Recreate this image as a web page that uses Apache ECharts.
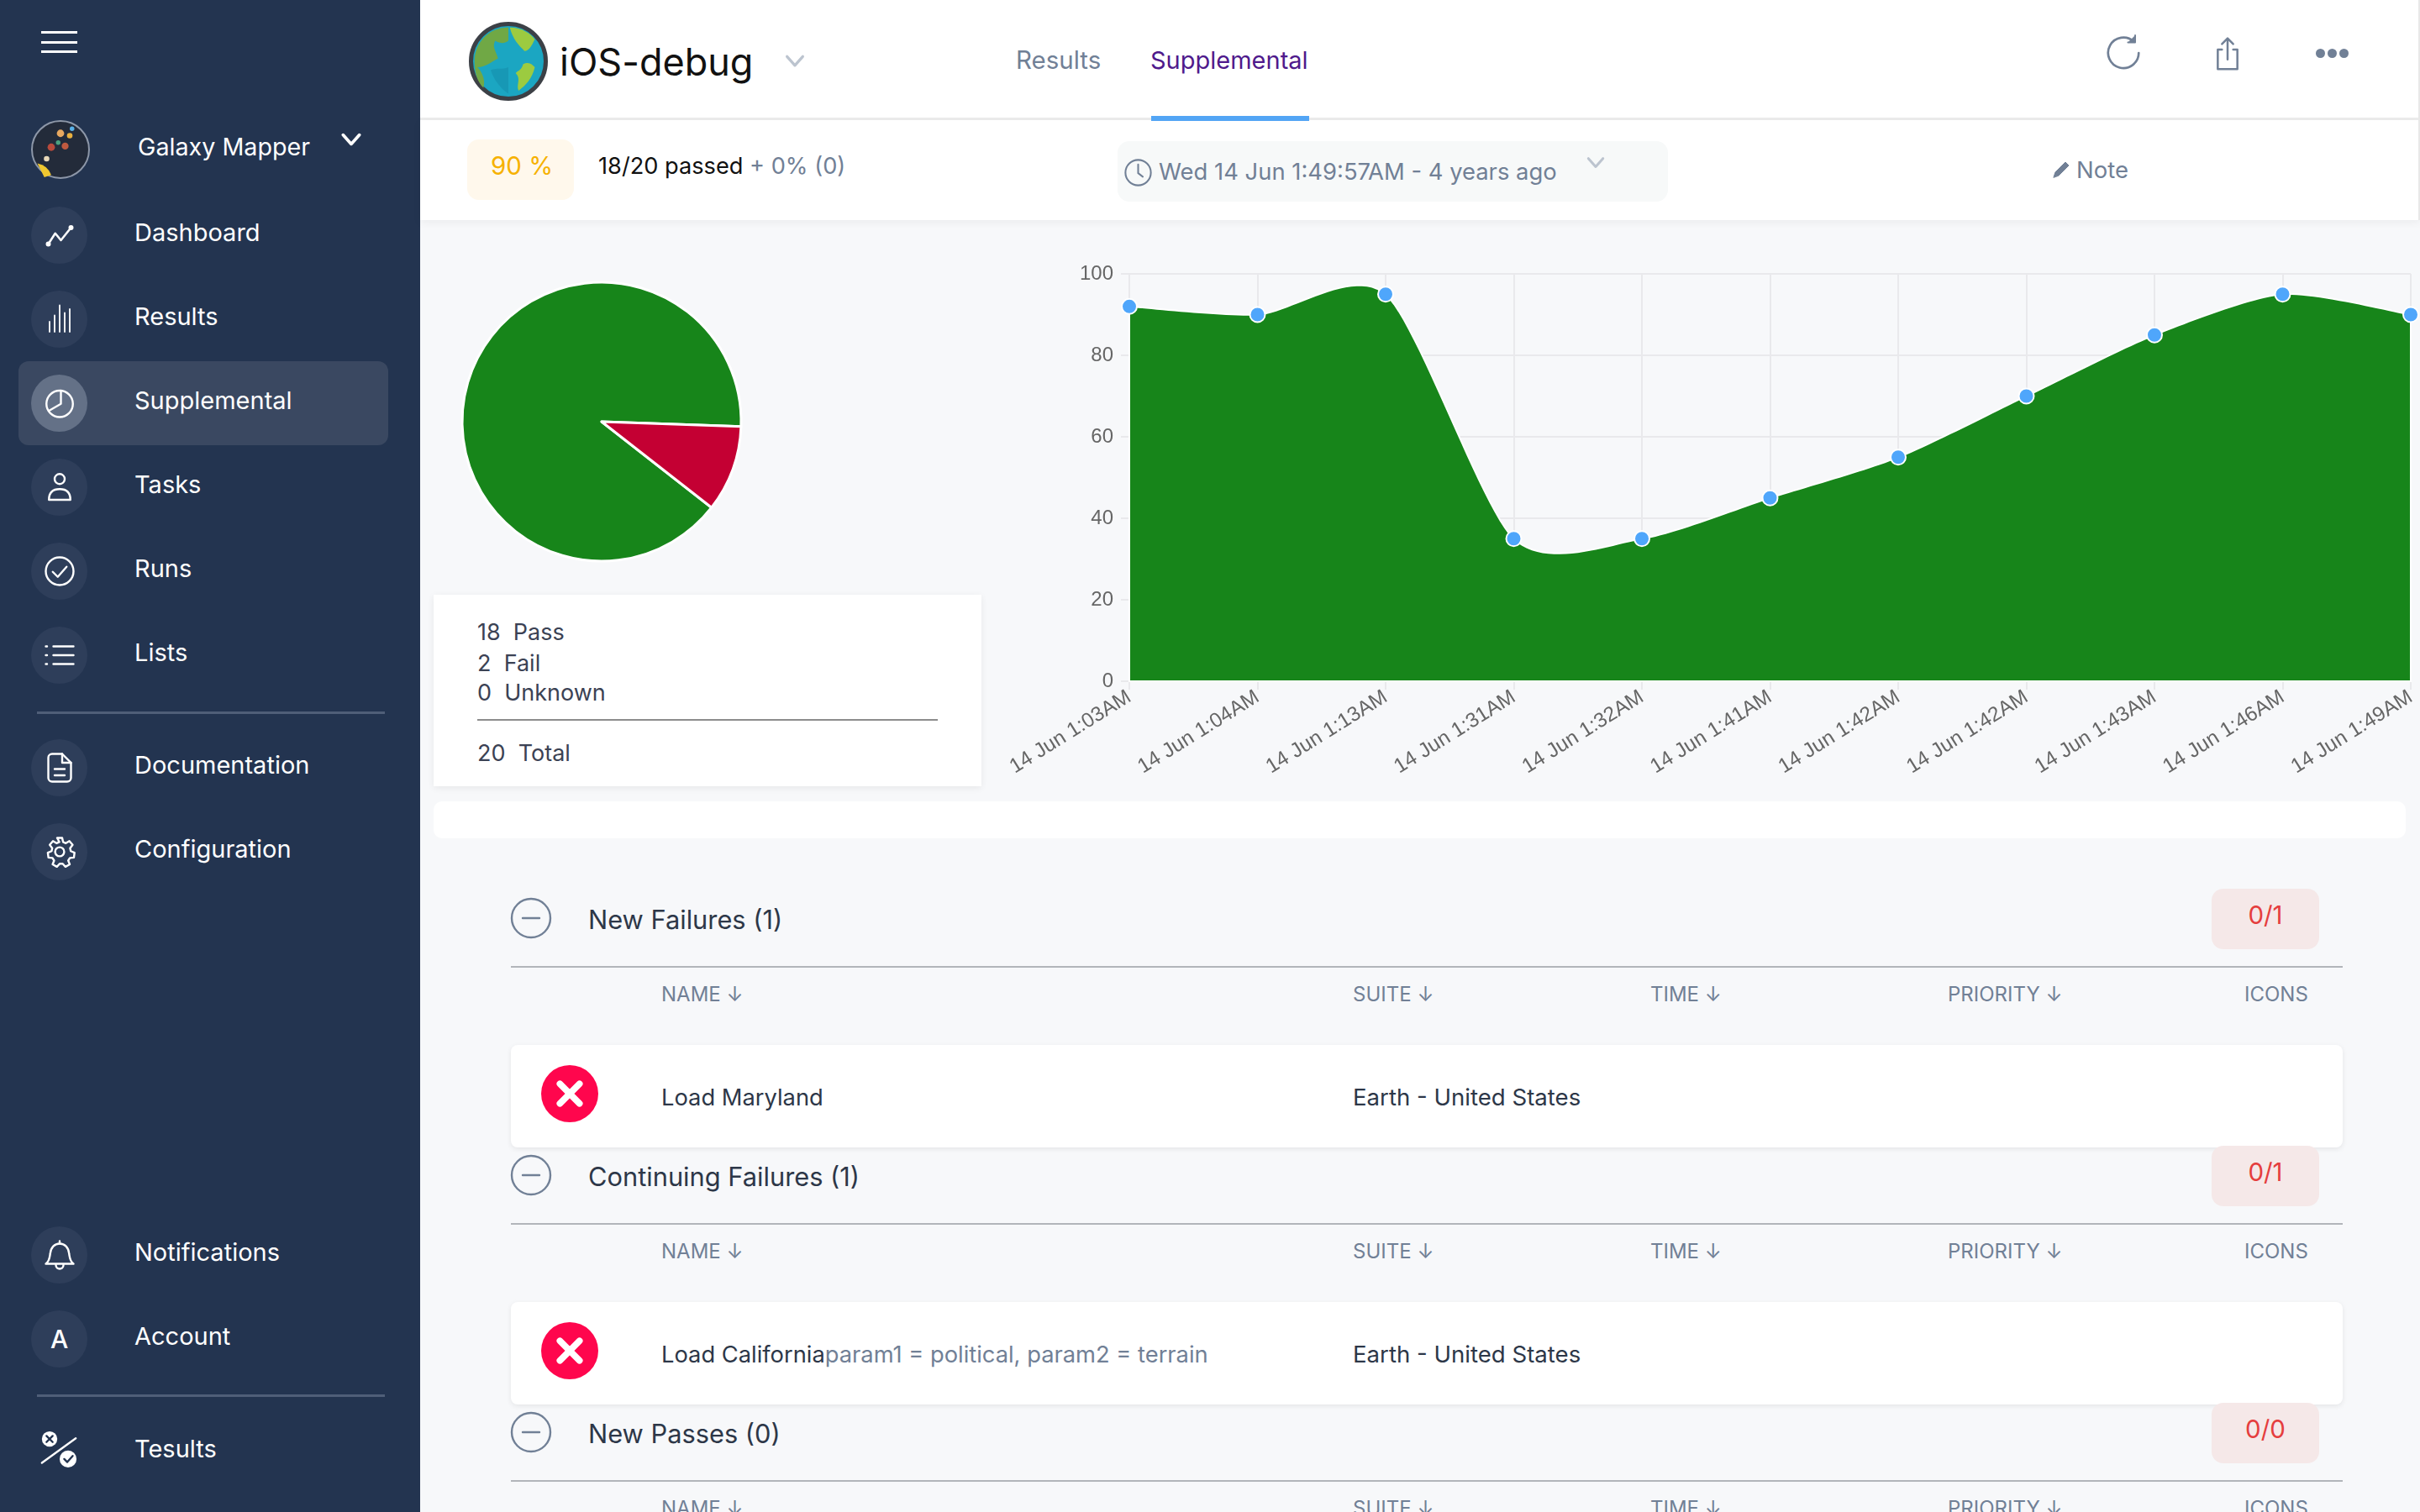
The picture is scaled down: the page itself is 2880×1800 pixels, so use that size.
<!DOCTYPE html>
<html>
<head>
<meta charset="utf-8">
<title>iOS-debug</title>
<script src="https://cdn.jsdelivr.net/npm/echarts@6/dist/echarts.min.js"></script>
<style>
    html, body { margin: 0; padding: 0; width: 2880px; height: 1800px; overflow: hidden; background: #f7f8fa; font-family: Inter, "Noto Sans", sans-serif; }
    #page { position: absolute; left: 0; top: 0; width: 2880px; height: 1800px; overflow: hidden; }
    .box { position: absolute; }
    .txt { position: absolute; white-space: nowrap; transform: translateY(-50%); line-height: 1.2; }
    .icon { position: absolute; overflow: visible; fill: none; stroke-linecap: round; stroke-linejoin: round; }
    #chart { position: absolute; left: 500px; top: 262px; width: 2380px; height: 690px; }
</style>
</head>
<body>
<div id="page"></div>
<div id="chart"></div>
<script>
// chart values
const runLabels = ['14 Jun 1:03AM', '14 Jun 1:04AM', '14 Jun 1:13AM', '14 Jun 1:31AM', '14 Jun 1:32AM', '14 Jun 1:41AM',
    '14 Jun 1:42AM', '14 Jun 1:42AM', '14 Jun 1:43AM', '14 Jun 1:46AM', '14 Jun 1:49AM'];
const passRates = [92, 90, 95, 35, 35, 45, 55, 70, 85, 95, 90];
const pieNames = ['Pass', 'Fail'];
const pieValues = [18, 2];
const pieColors = ['#17851a', '#c40033'];

// page text
const navTop = [
    ['Dashboard', 'line', 280], ['Results', 'bars', 380], ['Supplemental', 'pie', 480], ['Tasks', 'user', 580],
    ['Runs', 'check', 680], ['Lists', 'list', 780], ['Documentation', 'doc', 914], ['Configuration', 'gear', 1014],
    ['Notifications', 'bell', 1494], ['Account', 'A', 1594]
];
const summaryRows = [['18  Pass', 753], ['2  Fail', 790], ['0  Unknown', 825], ['20  Total', 897]];
const sections = [
    ['New Failures (1)', '0/1', 0, 'Load Maryland', ''],
    ['Continuing Failures (1)', '0/1', 306, 'Load California', 'param1 = political, param2 = terrain'],
    ['New Passes (0)', '0/0', 612, '', '']
];
const tableColumns = [['NAME', 787, true], ['SUITE', 1610, true], ['TIME', 1964, true], ['PRIORITY', 2318, true], ['ICONS', 2671, false]];

const page = document.getElementById('page');

function box(x, y, w, h, css) {
    const d = document.createElement('div');
    d.className = 'box';
    d.style.cssText = `left:${x}px;top:${y}px;width:${w}px;height:${h}px;${css || ''}`;
    page.appendChild(d);
    return d;
}

function txt(s, x, y, size, color, css) {
    const d = document.createElement('div');
    d.className = 'txt';
    d.textContent = s;
    d.style.cssText = `left:${x}px;top:${y}px;font-size:${size}px;color:${color};${css || ''}`;
    page.appendChild(d);
    return d;
}

// icon drawn in a 24x24 box centred on cx,cy
function icon(body, cx, cy, size, color, sw) {
    const wrap = document.createElement('div');
    const html = `<svg class="icon" viewBox="0 0 24 24" width="${size}" height="${size}" style="left:${cx - size / 2}px;top:${cy - size / 2}px;stroke:${color};stroke-width:${sw || 1.6}">${body}</svg>`;
    wrap.innerHTML = html;
    page.appendChild(wrap.firstChild);
}

const icons = {
    line: '<path d="M3 19 L8.500 10.500 L13 16 L21 6" stroke-width="1.700"/><circle cx="3" cy="19" r="1.200" fill="#fff"/><circle cx="21" cy="6" r="1.200" fill="#fff"/>',
    bars: '<path d="M4 22V14M8 22V9M12 22V1M16 22V7M20 22V4" stroke-width="1.200"/>',
    pie: '<circle cx="12" cy="12.500" r="10.500"/><path d="M13 2V12.500L3.500 18"/>',
    user: '<circle cx="12" cy="5.500" r="4"/><path d="M3.500 22c0-6 3.500-8.500 8.500-8.500s8.500 2.500 8.500 8.500z"/>',
    check: '<circle cx="12" cy="12" r="11"/><path d="M6.500 12.500l4 4 7-8"/>',
    list: '<path d="M7 5h16M7 12h16M7 19h16M1 5h1M1 12h1M1 19h1"/>',
    doc: '<path d="M3 4a3 3 0 0 1 3-3h8l7 7v12a3 3 0 0 1-3 3H6a3 3 0 0 1-3-3z"/><path d="M14 1v7h7M8 13h8M8 18h8"/>',
    gear: '<circle cx="12" cy="12" r="3.600"/><path d="M10 1h4l.7 3.200 2.200 1 2.800-1.700 2.600 3-2 2.600.5 2.400 3 1.200-.5 3.900-3.200.3-1.300 2.100 1.200 3-3.400 1.900-2.200-2.400h-2.400l-2.200 2.400-3.400-1.900 1.200-3-1.300-2.100-3.200-.3-.5-3.900 3-1.200.5-2.400-2-2.600 2.600-3 2.800 1.700 2.200-1z"/>',
    bell: '<path d="M1 19c3-2 3-5 3.500-8C5 6 8 3 12 3s7 3 7.500 8c.5 3 .5 6 3.500 8z"/><path d="M9 20c0 4 6 4 6 0M12 1v2"/>'
};

// sidebar
box(0, 0, 500, 1800, 'background:#233450');
[38, 50, 61].forEach(y => box(49, y - 1, 43, 3, 'background:#fff'));

box(37, 143, 70, 70, 'border-radius:50%;background:#232b3a;border:2px solid #8d97a8;box-sizing:border-box');
icon('<circle cx="12" cy="5" r="1.600" fill="#e8a860" stroke="none"/><circle cx="17" cy="3" r="1" fill="#58b0e8" stroke="none"/><circle cx="16" cy="6" r="1.200" fill="#e8b040" stroke="none"/><circle cx="8" cy="11" r="1.600" fill="#b84a3c" stroke="none"/><circle cx="11" cy="9" r="1" fill="#4aa080" stroke="none"/><circle cx="14" cy="10.500" r="1.500" fill="#c05a40" stroke="none"/><circle cx="6" cy="16" r="1.200" fill="#e8d8b8" stroke="none"/><path d="M2 18a8 8 0 0 1 6 5l-3 1z" fill="#f0c830" stroke="none"/>', 72, 178, 66, '#fff');
txt('Galaxy Mapper', 164, 175, 28.7, '#fff');
icon('<path d="M3 7l9 10 9-10"/>', 418, 166, 26, '#fff', 3.400);

box(22, 430, 440, 100, 'background:#3a4861;border-radius:12px');
navTop.forEach(item => {
    const active = item[0] === 'Supplemental';
    box(37, item[2] - 34, 67, 68, `border-radius:50%;background:${active ? '#647187' : '#2e3e5a'}`);
    if (item[1] === 'A') {
        txt('A', 60, item[2], 30, '#fff', 'font-weight:500');
    } else {
        icon(icons[item[1]], 71, item[2], 36, '#fff');
    }
    txt(item[0], 160, item[2] - 3, 29, '#fff');
});
box(44, 847, 414, 3, 'background:#4f5e78');
box(44, 1660, 414, 3, 'background:#4f5e78');
icon('<path d="M1 21L23 5" stroke="#fff" stroke-width="1.300"/><circle cx="6" cy="5.500" r="5" fill="#fff" stroke="none"/><circle cx="18" cy="18.500" r="5.500" fill="#fff" stroke="none"/><path d="M4 3.500l4 4M8 3.500l-4 4M15.500 18.500l2 2 3.500-4" stroke="#233450" stroke-width="1.300"/>', 70, 1725, 44, '#fff');
txt('Tesults', 160, 1725, 29, '#fff');

// header
box(500, 0, 2380, 141, 'background:#fff');
box(500, 140, 2380, 3, 'background:#ececec');
box(500, 143, 2380, 119, 'background:#fff;box-shadow:0 3px 10px rgba(0,0,0,.05)');
box(2878, 0, 2, 262, 'background:#e8e8e8');

box(558, 26, 94, 94, 'border-radius:50%;background:#1ba6c2;border:5px solid #3c4046;box-sizing:border-box;overflow:hidden');
icon('<path d="M12 0.500C5 0.500 0.500 6 0.500 12c0 4 1 7 3 9 1-3-1-6-2-7 3 0 5-2 7-3-1-3-2-4-1-6 2 1 3 1 4.500 0z" fill="#70a845" stroke="none"/><path d="M12.500 0.500c4 0 7 2 8.500 4-1 2-2 4-3.500 4-2-2-4-4-5-8z" fill="#9ccb40" stroke="none"/><path d="M17 13c2-1 3 0 4 1-1 4-3 6-5.500 8-1-2 1-4-1-6 1-1 2-1 2.500-3z" fill="#9ccb40" stroke="none"/><path d="M12 14c-2 1-4 0-6 1 1 3 3 6 6 8z" fill="rgba(0,60,90,.12)" stroke="none"/>', 605, 73, 84, '#fff');
txt('iOS-debug', 666, 74, 45, '#111');
icon('<path d="M4 8l8 9 8-9"/>', 946, 72, 28, '#bcc4cf', 2.800);

txt('Results', 1209, 72, 29.500, '#718096');
txt('Supplemental', 1369, 72, 29, '#4f1a8c');
box(1370, 138, 188, 6, 'background:#52a5f5');

icon('<path d="M21 12a9.500 9.500 0 1 1-3-7"/><path d="M18.800 1v4.500h-4.500" fill="#718096" stroke-width="1"/>', 2528, 63, 46, '#718096', 1.400);
icon('<path d="M8 9H5v14h14V9h-3M12 16V1M8 5l4-4 4 4"/>', 2651, 64, 40, '#718096', 1.500);
[2761, 2775, 2789].forEach(x => box(x - 5, 58, 11, 11, 'border-radius:50%;background:#718096'));

// status strip
box(556, 166, 127, 72, 'background:#fff8ec;border-radius:14px');
txt('90 %', 584, 198, 29.500, '#f6b100');
const passedLine = txt('18/20 passed', 712, 198, 27.200, '#111');
const passedExtra = document.createElement('span');
passedExtra.textContent = ' + 0% (0)';
passedExtra.style.color = '#718096';
passedLine.appendChild(passedExtra);

box(1330, 168, 655, 72, 'background:#f7f9f9;border-radius:14px');
icon('<circle cx="12" cy="12" r="11"/><path d="M12 5v7.500l4 3"/>', 1354, 205, 33, '#718096', 1.500);
txt('Wed 14 Jun 1:49:57AM - 4 years ago', 1379, 204, 27.400, '#718096');
icon('<path d="M4 8l8 9 8-9"/>', 1899, 193, 26, '#bcc4cf', 2.800);
icon('<path d="M3 21l2-6L17 3l4 4L9 19z" fill="#718096"/>', 2453, 202, 24, '#718096', 1);
txt('Note', 2471, 202, 27.500, '#718096');

// summary card
box(516, 708, 652, 228, 'background:#fff;box-shadow:0 2px 8px rgba(0,0,0,.07)');
summaryRows.forEach(r => txt(r[0], 568, r[1], 27, '#3b4254', 'white-space:pre'));
box(568, 856, 548, 2, 'background:#8c8c8c');
box(516, 954, 2347, 44, 'background:#fff;border-radius:10px');

// result sections
sections.forEach(s => {
    const dy = s[2];
    icon('<circle cx="12" cy="12" r="11.500"/><path d="M7 12h10"/>', 632, 1093 + dy, 48, '#718096', 1.200);
    txt(s[0], 700, 1095 + dy, 30.800, '#2d3748');
    box(2632, 1058 + dy, 128, 72, 'background:#f5e8e8;border-radius:14px');
    txt(s[1], 2696, 1090 + dy, 29.500, '#e53e3e', 'transform:translate(-50%,-50%)');
    box(608, 1150 + dy, 2180, 2, 'background:#b2b5ba');
    tableColumns.forEach(c => {
        const h = txt(c[0], c[1], 1184 + dy, 24, '#718096');
        if (c[2]) {
            const a = document.createElement('span');
            a.textContent = ' \u2193';
            h.appendChild(a);
        }
    });
    if (!s[3]) return;
    box(608, 1244 + dy, 2180, 122, 'background:#fff;border-radius:8px;box-shadow:0 2px 6px rgba(0,0,0,.08)');
    box(644, 1268 + dy, 68, 68, 'border-radius:50%;background:#ff064d');
    icon('<path d="M5 5l14 14M19 5L5 19"/>', 678, 1302 + dy, 40, '#fff', 4.600);
    const name = txt(s[3], 787, 1307 + dy, 27.300, '#2d3748');
    if (s[4]) {
        const p = document.createElement('span');
        p.textContent = s[4];
        p.style.color = '#718096';
        name.appendChild(p);
    }
    txt('Earth - United States', 1610, 1307 + dy, 27.600, '#2d3748');
});

// area under the runs, spline with overshoot like the original chart
function renderArea(params, api) {
    if (params.dataIndex !== 0) return null;
    const pts = passRates.map((v, i) => api.coord([i, v]));
    const base = api.coord([0, 0])[1];
    const k = 1 / 8;
    const outline = [[pts[0][0], base], pts[0]];
    for (let i = 0; i < pts.length - 1; i++) {
        const p0 = pts[Math.max(i - 1, 0)], p1 = pts[i], p2 = pts[i + 1], p3 = pts[Math.min(i + 2, pts.length - 1)];
        const c1 = [p1[0] + (p2[0] - p0[0]) * k, p1[1] + (p2[1] - p0[1]) * k];
        const c2 = [p2[0] - (p3[0] - p1[0]) * k, p2[1] - (p3[1] - p1[1]) * k];
        for (let s = 1; s <= 24; s++) {
            const t = s / 24, u = 1 - t;
            outline.push([0, 1].map(d => u * u * u * p1[d] + 3 * u * u * t * c1[d] + 3 * u * t * t * c2[d] + t * t * t * p2[d]));
        }
    }
    outline.push([pts[pts.length - 1][0], base]);
    return {
        type: 'polygon',
        shape: { points: outline },
        style: { fill: pieColors[0], stroke: '#fff', lineWidth: 2 }
    };
}

// charts
const chart = echarts.init(document.getElementById('chart'));
const gridColor = '#e9e9ec';
chart.setOption({
    animation: false,
    grid: { left: 844, top: 64, width: 1525, height: 485 },
    xAxis: {
        type: 'category',
        boundaryGap: false,
        data: runLabels,
        axisLine: { lineStyle: { color: gridColor, width: 2 } },
        axisTick: { show: true, length: 10, alignWithLabel: true, lineStyle: { color: gridColor, width: 2 } },
        splitLine: { show: true, lineStyle: { color: gridColor, width: 2 } },
        axisLabel: { interval: 0, rotate: 32, margin: 17, fontFamily: 'Liberation Sans', fontSize: 24.5, color: '#666' }
    },
    yAxis: {
        type: 'value',
        min: 0,
        max: 100,
        interval: 20,
        axisLine: { show: true, lineStyle: { color: gridColor, width: 2 } },
        axisTick: { show: true, length: 10, lineStyle: { color: gridColor, width: 2 } },
        splitLine: { lineStyle: { color: gridColor, width: 2 } },
        axisLabel: { margin: 19, padding: [3, 0, 0, 0], fontFamily: 'Liberation Sans', fontSize: 24, color: '#666' }
    },
    series: [
        {
            type: 'custom',
            data: passRates.map((v, i) => [i, v]),
            renderItem: renderArea,
            silent: true
        },
        {
            type: 'line',
            data: passRates,
            symbol: 'circle',
            symbolSize: 18,
            clip: false,
            z: 5,
            lineStyle: { opacity: 0 },
            itemStyle: { color: '#4fa6fb', borderColor: '#fff', borderWidth: 2 }
        },
        {
            type: 'pie',
            center: [216, 240],
            radius: [0, 166],
            startAngle: 322,
            silent: true,
            label: { show: false },
            labelLine: { show: false },
            itemStyle: { borderColor: '#fff', borderWidth: 3 },
            data: pieNames.map((n, i) => ({ name: n, value: pieValues[i], itemStyle: { color: pieColors[i] } }))
        }
    ]
});
</script>
</body>
</html>
